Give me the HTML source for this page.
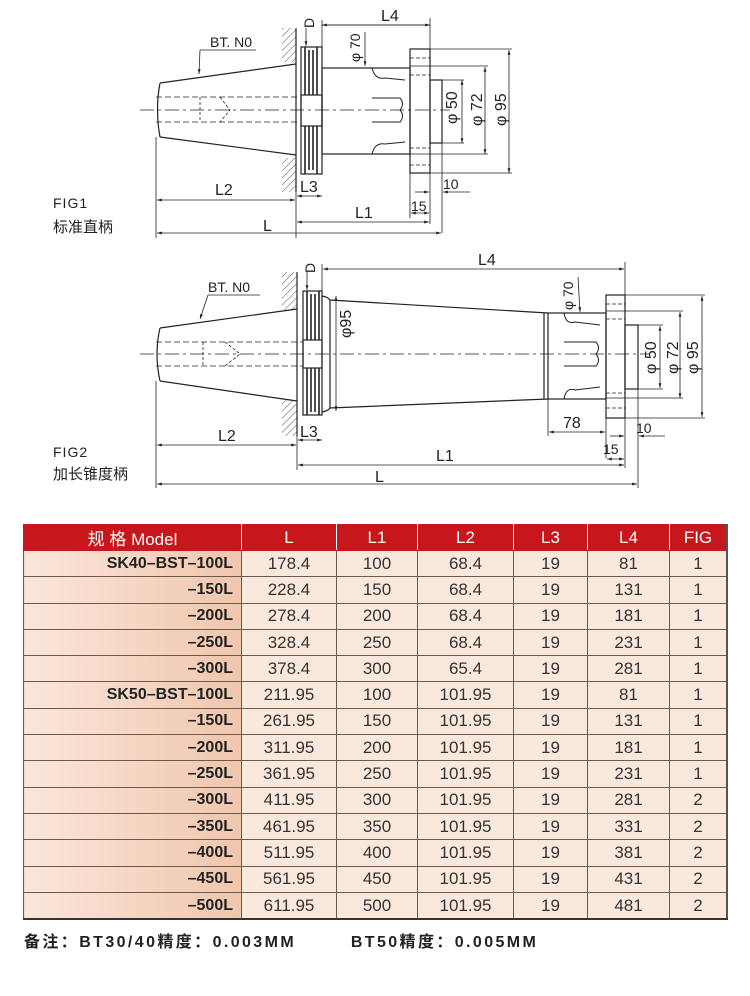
<!DOCTYPE html>
<html><head><meta charset="utf-8">
<style>
body{margin:0;width:750px;height:996px;background:#fff;position:relative;overflow:hidden;font-family:"Liberation Sans","Noto Sans CJK SC",sans-serif}
svg{position:absolute;left:0;top:0}
table{position:absolute;left:23px;top:524px;width:705px;border-collapse:collapse;table-layout:fixed}
td,th{border:1px solid #6b5a50;height:25.3px;padding:0;text-align:center;font-size:17px;color:#333;font-family:"Liberation Sans Narrow","Liberation Sans","Noto Sans CJK SC",sans-serif}
th{background:#c8161d;color:#fff;font-weight:normal;border-color:#c8161d;border-right:1px solid #fff;height:25px;font-size:17px}
td{background:#fbe8dd}
td.m{background:linear-gradient(90deg,#fbe6da,#f0c6ad);text-align:right;padding-right:8px;font-weight:bold;color:#222;font-size:16px;font-family:"Liberation Sans","Noto Sans CJK SC",sans-serif}
table{border-bottom:2px solid #333;border-right:2px solid #555}
.note{position:absolute;left:24px;top:928px;font-size:16px;font-weight:bold;color:#222;letter-spacing:2.4px;white-space:nowrap;font-family:"Liberation Sans","Noto Sans CJK SC",sans-serif}
</style></head><body>
<svg width="750" height="520" viewBox="0 0 750 520" font-family="Liberation Sans,sans-serif">
<defs>
<marker id="a" viewBox="0 0 10 10" refX="10" refY="5" markerWidth="6" markerHeight="6" orient="auto-start-reverse"><path d="M0,2 L10,5 L0,8z" fill="#222"/></marker>
<pattern id="h" width="5" height="5" patternUnits="userSpaceOnUse" patternTransform="rotate(45)"><line x1="0" y1="0" x2="0" y2="5" stroke="#555" stroke-width="1"/></pattern>
</defs>
<g stroke="#222" fill="none" stroke-width="1.2">
<rect x="282" y="28" width="14" height="34" fill="url(#h)" stroke="none"/>
<rect x="282" y="158" width="14" height="34" fill="url(#h)" stroke="none"/>
<line x1="296" y1="28" x2="296" y2="192"/>
<path d="M160,83 L296,64 M160,137 L296,155 M160,83 Q155,110 160,137"/>
<path d="M156,97 H300 M156,122 H300" stroke-dasharray="6,3" stroke-width="0.8"/>
<path d="M140,110 H450" stroke-dasharray="14,4,3,4" stroke-width="0.7"/>
<path d="M200,97 V122 M220,97 L230,110 L220,122" stroke-dasharray="3,2" stroke-width="0.8"/>
<rect x="301" y="47" width="21" height="127"/>
<path d="M305,47 V95 M309,50 V95 M313,50 V95 M317,47 V95 M305,126 V174 M309,126 V170 M313,126 V170 M317,126 V174" stroke-width="1.6"/>
<rect x="301" y="95" width="21" height="31"/>
<rect x="322" y="68" width="88" height="86"/>
<path d="M372,68 Q375,80 385,78 L405,80 M372,154 Q375,142 385,144 L405,142 M372,98 H400 Q405,104 400,110 M372,122 H400 Q405,116 400,110" stroke-width="1"/>
<rect x="410" y="49" width="20" height="124"/>
<rect x="430" y="80" width="12" height="63"/>
<path d="M410,58 H430 M410,75 H430 M410,148 H430 M410,165 H430" stroke-dasharray="4,2" stroke-width="0.7"/>
<g stroke-width="0.8">
<path d="M322,25 H430 M322,20 V68 M430,18 V49 M442,143 V233 M296,192 V238 M156,137 V238 M410,173 V218 M430,173 V224 M430,49 H512 M442,80 H464 M442,143 H464 M410,66 H488 M410,154 H488 M430,173 H512" />
<line x1="322" y1="25" x2="430" y2="25" marker-start="url(#a)" marker-end="url(#a)"/>
<line x1="365" y1="32" x2="365" y2="66" marker-end="url(#a)"/>
<line x1="462" y1="80" x2="462" y2="143" marker-start="url(#a)" marker-end="url(#a)"/>
<line x1="485" y1="67" x2="485" y2="154" marker-start="url(#a)" marker-end="url(#a)"/>
<line x1="509" y1="50" x2="509" y2="173" marker-start="url(#a)" marker-end="url(#a)"/>
<line x1="297" y1="196" x2="322" y2="196" marker-start="url(#a)" marker-end="url(#a)"/>
<line x1="157" y1="200" x2="295" y2="200" marker-start="url(#a)" marker-end="url(#a)"/>
<line x1="297" y1="222" x2="429" y2="222" marker-start="url(#a)" marker-end="url(#a)"/>
<line x1="157" y1="233" x2="441" y2="233" marker-start="url(#a)" marker-end="url(#a)"/>
<line x1="411" y1="213" x2="429" y2="213" marker-start="url(#a)" marker-end="url(#a)"/>
<line x1="415" y1="192" x2="429" y2="192" marker-end="url(#a)"/>
<line x1="470" y1="192" x2="443" y2="192" marker-end="url(#a)"/>
<line x1="306" y1="28" x2="306" y2="46" marker-end="url(#a)"/>
<path d="M200,50 H256" />
<line x1="200" y1="50" x2="199" y2="74" marker-end="url(#a)"/>
</g>
<rect x="282" y="272" width="15" height="38" fill="url(#h)" stroke="none"/>
<rect x="282" y="400" width="15" height="36" fill="url(#h)" stroke="none"/>
<line x1="297" y1="272" x2="297" y2="436"/>
<path d="M160,328 L297,309 M160,381 L297,401 M160,328 Q154,354 160,381"/>
<path d="M156,342 H303 M156,366 H303" stroke-dasharray="6,3" stroke-width="0.8"/>
<path d="M140,354 H650" stroke-dasharray="14,4,3,4" stroke-width="0.7"/>
<path d="M203,342 V366 M225,342 L240,354 L225,366" stroke-dasharray="3,2" stroke-width="0.8"/>
<rect x="303" y="291" width="19" height="124"/>
<path d="M307,291 V340 M311,294 V340 M315,294 V340 M319,291 V340 M307,368 V415 M311,368 V412 M315,368 V412 M319,368 V415" stroke-width="1.6"/>
<rect x="303" y="340" width="19" height="28"/>
<path d="M322,296 Q328,297 330,300 L548,313 M322,412 Q328,411 330,408 L548,399 M330,300 V408"/>
<rect x="548" y="313" width="58" height="86"/>
<line x1="544" y1="313" x2="544" y2="399"/>
<path d="M564,313 Q566,325 575,322 L600,325 M564,399 Q566,387 575,390 L600,387 M564,342 H596 Q601,348 596,354 M564,366 H596 Q601,360 596,354" stroke-width="1"/>
<rect x="606" y="295" width="19" height="123"/>
<rect x="625" y="325" width="13" height="64"/>
<path d="M606,304 H625 M606,319 H625 M606,393 H625 M606,408 H625" stroke-dasharray="4,2" stroke-width="0.7"/>
<g stroke-width="0.8">
<path d="M322,264 V291 M625,262 V295 M638,389 V488 M297,436 V470 M156,381 V488 M606,418 V458 M625,418 V468 M548,399 V436 M625,295 H705 M638,325 H663 M638,389 H663 M606,311 H683 M606,398 H683 M625,418 H705"/>
<line x1="323" y1="269" x2="624" y2="269" marker-start="url(#a)" marker-end="url(#a)"/>
<line x1="336" y1="296" x2="336" y2="411" marker-start="url(#a)" marker-end="url(#a)"/>
<line x1="578" y1="277" x2="580" y2="312" marker-end="url(#a)"/>
<line x1="660" y1="326" x2="660" y2="388" marker-start="url(#a)" marker-end="url(#a)"/>
<line x1="680" y1="312" x2="680" y2="398" marker-start="url(#a)" marker-end="url(#a)"/>
<line x1="702" y1="296" x2="702" y2="417" marker-start="url(#a)" marker-end="url(#a)"/>
<line x1="549" y1="432" x2="605" y2="432" marker-start="url(#a)" marker-end="url(#a)"/>
<line x1="298" y1="440" x2="322" y2="440" marker-start="url(#a)" marker-end="url(#a)"/>
<line x1="157" y1="445" x2="296" y2="445" marker-start="url(#a)" marker-end="url(#a)"/>
<line x1="607" y1="459" x2="624" y2="459" marker-start="url(#a)" marker-end="url(#a)"/>
<line x1="610" y1="436" x2="624" y2="436" marker-end="url(#a)"/>
<line x1="665" y1="436" x2="639" y2="436" marker-end="url(#a)"/>
<line x1="298" y1="465" x2="624" y2="465" marker-start="url(#a)" marker-end="url(#a)"/>
<line x1="157" y1="484" x2="637" y2="484" marker-start="url(#a)" marker-end="url(#a)"/>
<line x1="307" y1="272" x2="307" y2="290" marker-end="url(#a)"/>
<path d="M208,295 H260"/>
<line x1="208" y1="295" x2="200" y2="319" marker-end="url(#a)"/>
</g>
</g>
<g fill="#222" font-size="16" font-family="Liberation Sans Narrow,Liberation Sans,sans-serif">
<text x="210" y="47" font-size="14">BT. N0</text>
<text x="381" y="21">L4</text>
<text transform="translate(314,28) rotate(-90)" font-size="14">D</text>
<text transform="translate(360,62) rotate(-90)" font-size="14">φ 70</text>
<text transform="translate(457,124) rotate(-90)">φ 50</text>
<text transform="translate(482,126) rotate(-90)">φ 72</text>
<text transform="translate(506,126) rotate(-90)">φ 95</text>
<text x="300" y="192">L3</text>
<text x="215" y="195">L2</text>
<text x="355" y="218">L1</text>
<text x="263" y="231">L</text>
<text x="411" y="211" font-size="14">15</text>
<text x="443" y="189" font-size="14">10</text>
<text x="53" y="208" font-size="14" letter-spacing="1">FIG1</text>
<text x="53" y="232" font-family="Noto Sans CJK SC,sans-serif" font-size="15">标准直柄</text>
<text x="208" y="292" font-size="14">BT. N0</text>
<text x="478" y="265">L4</text>
<text transform="translate(315,273) rotate(-90)" font-size="14">D</text>
<text transform="translate(351,338) rotate(-90)">φ95</text>
<text transform="translate(573,310) rotate(-90)" font-size="14">φ 70</text>
<text transform="translate(656,374) rotate(-90)">φ 50</text>
<text transform="translate(678,374) rotate(-90)">φ 72</text>
<text transform="translate(698,374) rotate(-90)">φ 95</text>
<text x="300" y="437">L3</text>
<text x="218" y="441">L2</text>
<text x="563" y="428">78</text>
<text x="603" y="454" font-size="14">15</text>
<text x="636" y="433" font-size="14">10</text>
<text x="436" y="461">L1</text>
<text x="375" y="482">L</text>
<text x="53" y="457" font-size="14" letter-spacing="1">FIG2</text>
<text x="53" y="479" font-family="Noto Sans CJK SC,sans-serif" font-size="15">加长锥度柄</text>
</g>
</svg>
<table>
<colgroup><col style="width:218px"><col style="width:95px"><col style="width:81px"><col style="width:96px"><col style="width:74px"><col style="width:82px"><col></colgroup>
<tr><th>规 格 Model</th><th>L</th><th>L1</th><th>L2</th><th>L3</th><th>L4</th><th style="border-right:none">FIG</th></tr>
<tr><td class="m">SK40–BST–100L</td><td>178.4</td><td>100</td><td>68.4</td><td>19</td><td>81</td><td>1</td></tr>
<tr><td class="m">–150L</td><td>228.4</td><td>150</td><td>68.4</td><td>19</td><td>131</td><td>1</td></tr>
<tr><td class="m">–200L</td><td>278.4</td><td>200</td><td>68.4</td><td>19</td><td>181</td><td>1</td></tr>
<tr><td class="m">–250L</td><td>328.4</td><td>250</td><td>68.4</td><td>19</td><td>231</td><td>1</td></tr>
<tr><td class="m">–300L</td><td>378.4</td><td>300</td><td>65.4</td><td>19</td><td>281</td><td>1</td></tr>
<tr><td class="m">SK50–BST–100L</td><td>211.95</td><td>100</td><td>101.95</td><td>19</td><td>81</td><td>1</td></tr>
<tr><td class="m">–150L</td><td>261.95</td><td>150</td><td>101.95</td><td>19</td><td>131</td><td>1</td></tr>
<tr><td class="m">–200L</td><td>311.95</td><td>200</td><td>101.95</td><td>19</td><td>181</td><td>1</td></tr>
<tr><td class="m">–250L</td><td>361.95</td><td>250</td><td>101.95</td><td>19</td><td>231</td><td>1</td></tr>
<tr><td class="m">–300L</td><td>411.95</td><td>300</td><td>101.95</td><td>19</td><td>281</td><td>2</td></tr>
<tr><td class="m">–350L</td><td>461.95</td><td>350</td><td>101.95</td><td>19</td><td>331</td><td>2</td></tr>
<tr><td class="m">–400L</td><td>511.95</td><td>400</td><td>101.95</td><td>19</td><td>381</td><td>2</td></tr>
<tr><td class="m">–450L</td><td>561.95</td><td>450</td><td>101.95</td><td>19</td><td>431</td><td>2</td></tr>
<tr><td class="m">–500L</td><td>611.95</td><td>500</td><td>101.95</td><td>19</td><td>481</td><td>2</td></tr>
</table>
<div class="note">备注：BT30/40精度：0.003MM&nbsp;&nbsp;&nbsp;&nbsp;&nbsp;&nbsp;&nbsp;&nbsp;BT50精度：0.005MM</div>
</body></html>
